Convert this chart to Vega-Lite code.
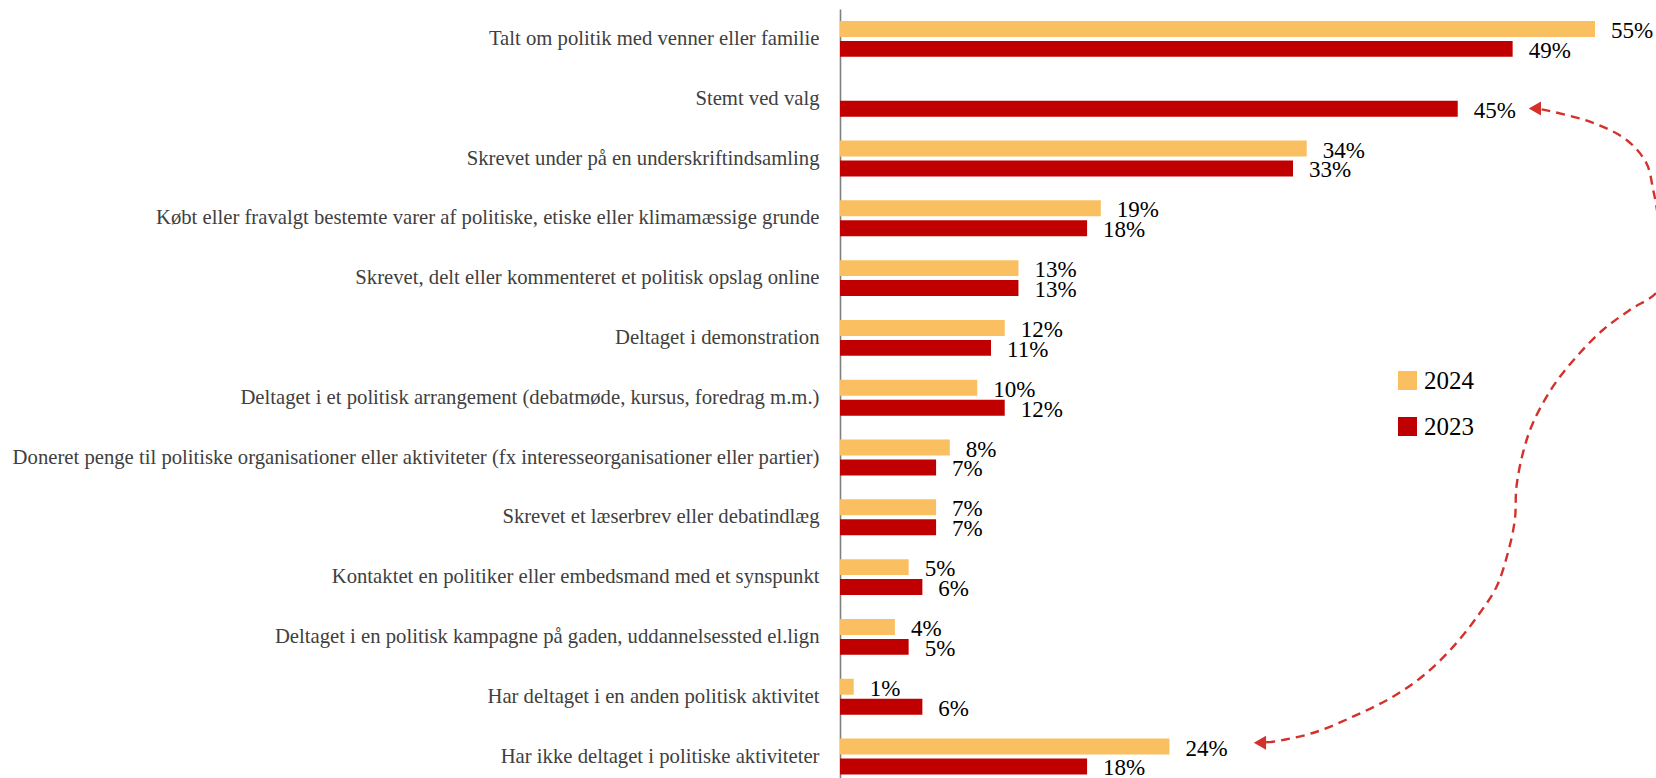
{
  "$schema": "https://vega.github.io/schema/vega-lite/v6.json",
  "autosize": {"type": "none"},
  "padding": {"left": 840, "top": 9, "right": 61, "bottom": 0},
  "width": 755,
  "height": 769,
  "background": "white",
  "config": {"view": {"stroke": null}, "font": "Liberation Serif"},
  "datasets": {
    "bars": [
      {"cat": "Talt om politik med venner eller familie", "year": "2024", "v": 0.55},
      {"cat": "Talt om politik med venner eller familie", "year": "2023", "v": 0.49},
      {"cat": "Stemt ved valg", "year": "2023", "v": 0.45},
      {"cat": "Skrevet under på en underskriftindsamling", "year": "2024", "v": 0.34},
      {"cat": "Skrevet under på en underskriftindsamling", "year": "2023", "v": 0.33},
      {"cat": "Købt eller fravalgt bestemte varer af politiske, etiske eller klimamæssige grunde", "year": "2024", "v": 0.19},
      {"cat": "Købt eller fravalgt bestemte varer af politiske, etiske eller klimamæssige grunde", "year": "2023", "v": 0.18},
      {"cat": "Skrevet, delt eller kommenteret et politisk opslag online", "year": "2024", "v": 0.13},
      {"cat": "Skrevet, delt eller kommenteret et politisk opslag online", "year": "2023", "v": 0.13},
      {"cat": "Deltaget i demonstration", "year": "2024", "v": 0.12},
      {"cat": "Deltaget i demonstration", "year": "2023", "v": 0.11},
      {"cat": "Deltaget i et politisk arrangement (debatmøde, kursus, foredrag m.m.)", "year": "2024", "v": 0.10},
      {"cat": "Deltaget i et politisk arrangement (debatmøde, kursus, foredrag m.m.)", "year": "2023", "v": 0.12},
      {"cat": "Doneret penge til politiske organisationer eller aktiviteter (fx interesseorganisationer eller partier)", "year": "2024", "v": 0.08},
      {"cat": "Doneret penge til politiske organisationer eller aktiviteter (fx interesseorganisationer eller partier)", "year": "2023", "v": 0.07},
      {"cat": "Skrevet et læserbrev eller debatindlæg", "year": "2024", "v": 0.07},
      {"cat": "Skrevet et læserbrev eller debatindlæg", "year": "2023", "v": 0.07},
      {"cat": "Kontaktet en politiker eller embedsmand med et synspunkt", "year": "2024", "v": 0.05},
      {"cat": "Kontaktet en politiker eller embedsmand med et synspunkt", "year": "2023", "v": 0.06},
      {"cat": "Deltaget i en politisk kampagne på gaden, uddannelsessted el.lign", "year": "2024", "v": 0.04},
      {"cat": "Deltaget i en politisk kampagne på gaden, uddannelsessted el.lign", "year": "2023", "v": 0.05},
      {"cat": "Har deltaget i en anden politisk aktivitet", "year": "2024", "v": 0.01},
      {"cat": "Har deltaget i en anden politisk aktivitet", "year": "2023", "v": 0.06},
      {"cat": "Har ikke deltaget i politiske aktiviteter", "year": "2024", "v": 0.24},
      {"cat": "Har ikke deltaget i politiske aktiviteter", "year": "2023", "v": 0.18}
    ],
    "curve": [
      {"i": 0, "cx": 0.5111, "cy": 1.678},
      {"i": 1, "cx": 0.5463, "cy": 1.885},
      {"i": 2, "cx": 0.5730, "cy": 2.19},
      {"i": 3, "cx": 0.5875, "cy": 2.58},
      {"i": 4, "cx": 0.5924, "cy": 3.03},
      {"i": 5, "cx": 0.5943, "cy": 3.24},
      {"i": 6, "cx": 0.5972, "cy": 3.696},
      {"i": 7, "cx": 0.6001, "cy": 4.197},
      {"i": 8, "cx": 0.5987, "cy": 4.532},
      {"i": 9, "cx": 0.5943, "cy": 4.754},
      {"i": 10, "cx": 0.5754, "cy": 5.033},
      {"i": 11, "cx": 0.5557, "cy": 5.368},
      {"i": 12, "cx": 0.5366, "cy": 5.814},
      {"i": 13, "cx": 0.5193, "cy": 6.316},
      {"i": 14, "cx": 0.5047, "cy": 6.928},
      {"i": 15, "cx": 0.4975, "cy": 7.425},
      {"i": 16, "cx": 0.4928, "cy": 7.988},
      {"i": 17, "cx": 0.4916, "cy": 8.545},
      {"i": 18, "cx": 0.4865, "cy": 9.097},
      {"i": 19, "cx": 0.4783, "cy": 9.660},
      {"i": 20, "cx": 0.4661, "cy": 10.100},
      {"i": 21, "cx": 0.4491, "cy": 10.602},
      {"i": 22, "cx": 0.4273, "cy": 11.104},
      {"i": 23, "cx": 0.4028, "cy": 11.500},
      {"i": 24, "cx": 0.3736, "cy": 11.834},
      {"i": 25, "cx": 0.3445, "cy": 12.107},
      {"i": 26, "cx": 0.3154, "cy": 12.253},
      {"i": 27, "cx": 0.3103, "cy": 12.262}
    ],
    "heads": [
      {"cx": 0.5062, "cy": 1.664},
      {"cx": 0.3059, "cy": 12.27}
    ]
  },
  "layer": [
    {
      "data": {"name": "bars"},
      "encoding": {
        "y": {"field": "cat", "type": "nominal", "sort": null,
              "scale": {"range": [0, 777.4], "paddingInner": 0.4, "paddingOuter": 0.2},
              "axis": {"title": null, "ticks": false, "labelFontSize": 20.7, "labelColor": "#404040",
                       "labelFont": "Liberation Serif", "labelPadding": 21, "labelLimit": 900,
                       "domainColor": "#7f7f7f", "domainWidth": 1.6, "grid": false}},
        "yOffset": {"field": "year", "type": "nominal", "sort": ["2024", "2023"],
                    "scale": {"paddingInner": 0.2, "paddingOuter": 0}},
        "x": {"field": "v", "type": "quantitative", "scale": {"domain": [0, 0.55], "nice": false}, "axis": null}
      },
      "layer": [
        {
          "mark": {"type": "bar"},
          "encoding": {
            "color": {"field": "year", "type": "nominal",
                      "scale": {"domain": ["2024", "2023"], "range": ["#FABF61", "#C00000"]},
                      "legend": {"title": null, "orient": "none", "legendX": 555, "legendY": 359,
                                 "symbolType": "square", "symbolSize": 361, "symbolStrokeWidth": 0,
                                 "symbolOpacity": 1, "labelFontSize": 25, "labelFont": "Liberation Serif",
                                 "labelColor": "#000", "labelOffset": 4, "rowPadding": 20, "padding": 0}}
          }
        },
        {
          "mark": {"type": "text", "align": "left", "baseline": "middle", "dx": 16, "dy": 2,
                   "fontSize": 23, "font": "Liberation Serif", "color": "#000"},
          "encoding": {
            "text": {"field": "v", "type": "quantitative", "format": ".0%"}
          }
        }
      ]
    },
    {
      "encoding": {
        "x": {"field": "cx", "type": "quantitative", "scale": {"domain": [0, 0.55], "nice": false}},
        "y": {"field": "cy", "type": "quantitative",
              "scale": {"domain": [0, 13], "range": [0, 777.4], "nice": false, "zero": false}, "axis": null}
      },
      "layer": [
        {
          "data": {"name": "curve"},
          "mark": {"type": "line", "interpolate": "catmull-rom", "color": "#D3312B",
                   "strokeWidth": 2.4, "strokeDash": [9, 6]},
          "encoding": {
            "order": {"field": "i", "type": "quantitative"}
          }
        },
        {
          "data": {"name": "heads"},
          "mark": {"type": "point", "shape": "triangle-left", "filled": true, "size": 200,
                   "color": "#D3312B", "opacity": 1},
          "encoding": {}
        }
      ]
    }
  ],
  "resolve": {"scale": {"y": "independent"}}
}
